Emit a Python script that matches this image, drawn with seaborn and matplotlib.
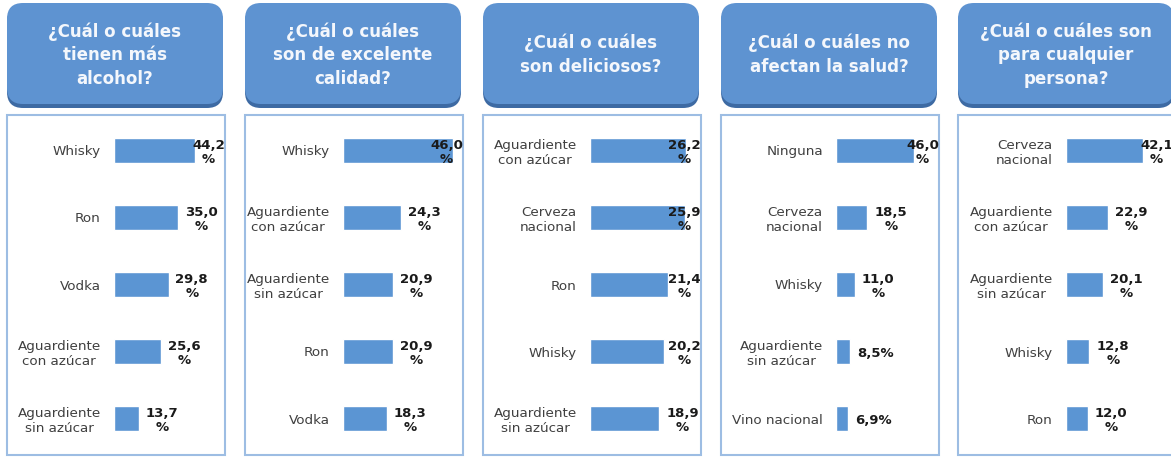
import seaborn as sns
import matplotlib.pyplot as plt
from matplotlib.patches import FancyBboxPatch, Rectangle

# data
titles = [
    "¿Cuál o cuáles\ntienen más\nalcohol?",
    "¿Cuál o cuáles\nson de excelente\ncalidad?",
    "¿Cuál o cuáles\nson deliciosos?",
    "¿Cuál o cuáles no\nafectan la salud?",
    "¿Cuál o cuáles son\npara cualquier\npersona?",
]
cats_alcohol = ["Whisky", "Ron", "Vodka", "Aguardiente\ncon azúcar", "Aguardiente\nsin azúcar"]
vals_alcohol = [44.2, 35.0, 29.8, 25.6, 13.7]
cats_calidad = ["Whisky", "Aguardiente\ncon azúcar", "Aguardiente\nsin azúcar", "Ron", "Vodka"]
vals_calidad = [46.0, 24.3, 20.9, 20.9, 18.3]
cats_delicioso = ["Aguardiente\ncon azúcar", "Cerveza\nnacional", "Ron", "Whisky", "Aguardiente\nsin azúcar"]
vals_delicioso = [26.2, 25.9, 21.4, 20.2, 18.9]
cats_salud = ["Ninguna", "Cerveza\nnacional", "Whisky", "Aguardiente\nsin azúcar", "Vino nacional"]
vals_salud = [46.0, 18.5, 11.0, 8.5, 6.9]
cats_persona = ["Cerveza\nnacional", "Aguardiente\ncon azúcar", "Aguardiente\nsin azúcar", "Whisky", "Ron"]
vals_persona = [42.1, 22.9, 20.1, 12.8, 12.0]

panels = [
    (cats_alcohol, vals_alcohol),
    (cats_calidad, vals_calidad),
    (cats_delicioso, vals_delicioso),
    (cats_salud, vals_salud),
    (cats_persona, vals_persona),
]

W, H = 1171, 457
bar_color = "#5b95d3"
head_color = "#5e93d1"
border_color = "#9dbde3"

# layout in pixels
box_lefts = [7, 245, 483, 721, 958]
box_w = 218
bar_starts = [114, 343, 590, 836, 1066]
x_max = [59.6, 49.4, 29.8, 59.4, 59.0]

sns.set_style("white")
plt.rcParams['font.family'] = ['DejaVu Sans']

fig = plt.figure(figsize=(W / 100, H / 100), dpi=100)
inch = fig.dpi_scale_trans


def ybox(y):
    return (H - y) / 100


for i, (cats, vals) in enumerate(panels):
    left = box_lefts[i]

    # header with shadow
    shadow = FancyBboxPatch((left / 100, ybox(108)), (box_w - 2) / 100, 1.02,
                            boxstyle="round,pad=0,rounding_size=0.16",
                            transform=inch, fc="#3d6aa3", ec="none", zorder=-2)
    fig.add_artist(shadow)
    head = FancyBboxPatch((left / 100, ybox(104)), (box_w - 2) / 100, 1.01,
                          boxstyle="round,pad=0,rounding_size=0.16",
                          transform=inch, fc=head_color, ec="none", zorder=-1)
    fig.add_artist(head)
    fig.text((left + (box_w - 2) / 2) / 100, ybox(55), titles[i], transform=inch,
             ha="center", va="center", color="#f4f7fc", fontsize=12,
             fontweight="bold", linespacing=1.4)

    # bordered box
    fig.add_artist(Rectangle((left / 100, ybox(455)), box_w / 100, 3.40,
                             transform=inch, fc="white", ec=border_color, lw=1.5,
                             zorder=-1))

    # bar axes
    bs = bar_starts[i]
    ax_right = left + box_w - 2
    ax = fig.add_axes([bs / W, (H - 452) / H, (ax_right - bs) / W, 335 / H])
    ax.patch.set_alpha(0)
    sns.barplot(x=vals, y=cats, orient="h", color=bar_color, width=0.36,
                saturation=1, ax=ax)
    ax.set_xlim(0, x_max[i])
    ax.set_ylim(4.5, -0.5)
    ax.set_xlabel("")
    ax.set_ylabel("")
    ax.set_xticks([])
    sns.despine(ax=ax, left=True, bottom=True)
    ax.tick_params(axis="y", length=0, pad=9.5, labelsize=9.7, labelcolor="#404040")
    for lab in ax.get_yticklabels():
        lab.set_multialignment("center")

    px_per_unit = (ax_right - bs) / x_max[i]
    limit = (min(ax_right, W) - 31 - bs) / px_per_unit
    for j, v in enumerate(vals):
        txt = f"{v:.1f}".replace(".", ",")
        txt = txt + "%" if v < 10 else txt + "\n%"
        xpos = min(v + 7 / px_per_unit, limit)
        ax.text(xpos, j + 0.03, txt, ha="left", va="center", multialignment="center",
                fontsize=9.5, fontweight="bold", color="#1a1a1a", linespacing=1.15,
                clip_on=False)

fig.savefig("out.png", dpi=100)
